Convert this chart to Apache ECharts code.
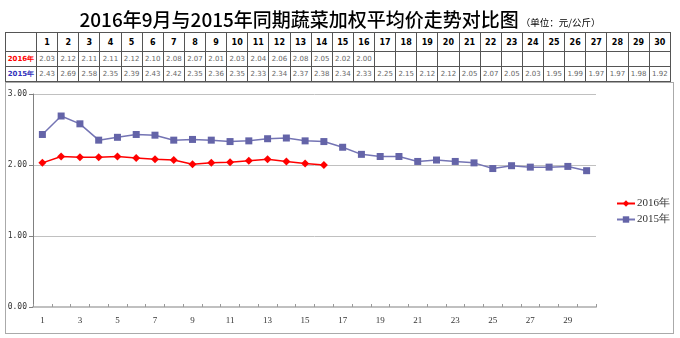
<!DOCTYPE html>
<html>
<head>
<meta charset="utf-8">
<script src="https://cdn.jsdelivr.net/npm/echarts@6/dist/echarts.min.js"></script>
<style>
  html, body { margin: 0; padding: 0; background: #fff; }
  #wrap { position: relative; width: 680px; height: 338px; overflow: hidden; }
  #box { position: absolute; left: 5px; top: 82px; width: 667px; height: 250px; border: 1px solid #aaa; }
  #tbl { position: absolute; left: 5px; top: 32px; width: 666px; border-collapse: collapse; table-layout: fixed;
         font-family: "DejaVu Sans", sans-serif; }
  #tbl td { border: 1px solid #555; padding: 0; text-align: center; overflow: hidden; white-space: nowrap; }
  #tbl tr.h td { height: 18px; font-size: 8px; font-weight: bold; color: #000; }
  #tbl tr.v td { height: 14px; font-size: 7px; color: #666; }
  #tbl td.lab { font-size: 8px; font-weight: bold; }
  #chart { position: absolute; left: 0; top: 0; width: 680px; height: 338px; }
</style>
</head>
<body>
<div id="wrap">
  <div id="box"></div>
  <table id="tbl"></table>
  <div id="chart"></div>
</div>
<script>
var titleMain = '2016年9月与2015年同期蔬菜加权平均价走势对比图';
var titleUnit = '（单位：元/公斤）';
var days = ['1','2','3','4','5','6','7','8','9','10','11','12','13','14','15','16','17','18','19','20','21','22','23','24','25','26','27','28','29','30'];
var name2016 = '2016年';
var name2015 = '2015年';
var data2016 = [2.03, 2.12, 2.11, 2.11, 2.12, 2.10, 2.08, 2.07, 2.01, 2.03, 2.04, 2.06, 2.08, 2.05, 2.02, 2.00];
var data2015 = [2.43, 2.69, 2.58, 2.35, 2.39, 2.43, 2.42, 2.35, 2.36, 2.35, 2.33, 2.34, 2.37, 2.38, 2.34, 2.33, 2.25, 2.15, 2.12, 2.12, 2.05, 2.07, 2.05, 2.03, 1.95, 1.99, 1.97, 1.97, 1.98, 1.92];
var yTicks = [0, 1, 2, 3];

// build table from data
(function () {
  var t = document.getElementById('tbl');
  var cg = '<colgroup><col style="width:31px">';
  for (var i = 0; i < days.length; i++) cg += '<col>';
  cg += '</colgroup>';
  var h = '<tr class="h"><td class="lab"></td>';
  days.forEach(function (d) { h += '<td>' + d + '</td>'; });
  h += '</tr>';
  function row(name, color, arr) {
    var s = '<tr class="v"><td class="lab" style="color:' + color + '">' + name + '</td>';
    for (var i = 0; i < days.length; i++) {
      s += '<td>' + (i < arr.length ? arr[i].toFixed(2) : '') + '</td>';
    }
    return s + '</tr>';
  }
  t.innerHTML = cg + h + row(name2016, '#ff0000', data2016) + row(name2015, '#3333bb', data2015);
})();

var chart = echarts.init(document.getElementById('chart'), null, { renderer: 'canvas' });
chart.setOption({
  backgroundColor: 'transparent',
  animation: false,
  title: {
    left: 'center',
    top: 5,
    text: '{a|' + titleMain + '}{b|' + titleUnit + '}',
    textStyle: {
      fontWeight: 500,
      rich: {
        a: { fontSize: 19, color: '#000', fontWeight: 500, fontFamily: 'Noto Sans CJK SC', verticalAlign: 'bottom' },
        b: { fontSize: 9.5, color: '#000', fontWeight: 'normal', fontFamily: 'Noto Sans CJK SC', verticalAlign: 'bottom', padding: [0, 0, 2, 2] }
      }
    }
  },
  legend: {
    orient: 'vertical',
    left: 611,
    top: 193,
    itemWidth: 18,
    itemHeight: 8,
    itemGap: 5,
    textStyle: { fontSize: 11, color: '#333', fontFamily: 'Liberation Serif', padding: [0, 0, 0, -3] },
    data: [name2016, name2015]
  },
  grid: { left: 33, top: 94, right: 84, bottom: 31, containLabel: false },
  xAxis: {
    type: 'category',
    data: days,
    boundaryGap: true,
    axisLine: { lineStyle: { color: '#c0c0c0', width: 2 } },
    axisTick: { show: true, inside: true, length: 3, interval: 0, lineStyle: { color: '#999' } },
    axisLabel: { interval: 1, fontSize: 9, color: '#333', margin: 9, fontFamily: 'Liberation Serif' },
    splitLine: { show: false }
  },
  yAxis: {
    type: 'value',
    min: yTicks[0],
    max: yTicks[yTicks.length - 1],
    interval: 1,
    axisLine: { show: true, lineStyle: { color: '#808080', width: 1 } },
    axisTick: { show: true, length: 4, lineStyle: { color: '#808080' } },
    axisLabel: { fontSize: 8, color: '#333', margin: 6, fontFamily: 'DejaVu Sans Mono', formatter: function (v) { return v.toFixed(2); } },
    splitLine: { show: true, lineStyle: { color: '#c0c0c0', width: 1 } }
  },
  series: [
    {
      name: name2016,
      type: 'line',
      data: data2016,
      symbol: 'diamond',
      symbolSize: 8,
      itemStyle: { color: '#ff0000' },
      lineStyle: { color: '#ff0000', width: 1.5 },
      z: 3
    },
    {
      name: name2015,
      type: 'line',
      data: data2015,
      symbol: 'rect',
      symbolSize: 7,
      itemStyle: { color: '#6464a8' },
      lineStyle: { color: '#7474b4', width: 1.5 },
      z: 2
    }
  ]
});
</script>
</body>
</html>
